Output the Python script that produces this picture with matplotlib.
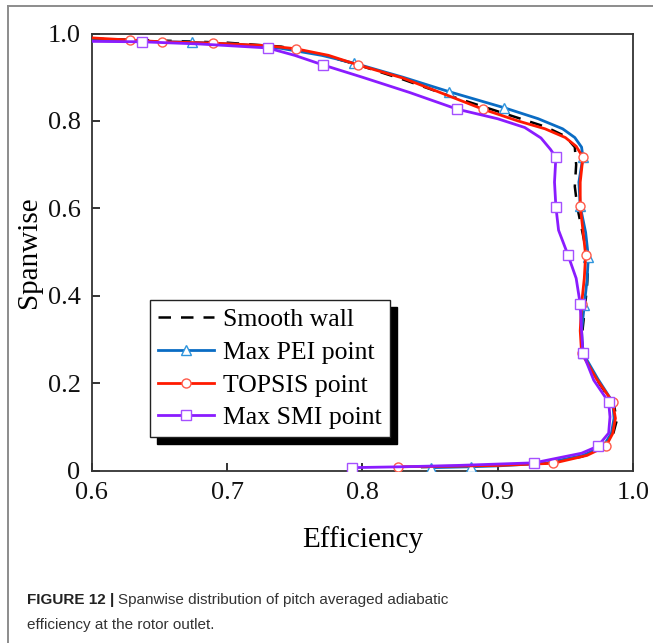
import numpy as np
import matplotlib
matplotlib.use("Agg")
import matplotlib.pyplot as plt
from matplotlib.lines import Line2D

plt.rcParams['font.family'] = ['Liberation Serif', 'DejaVu Serif']

# ---- data ----
smooth_x = [0.600, 0.650, 0.700, 0.740, 0.770, 0.800, 0.830, 0.860, 0.890, 0.915, 0.935, 0.950,
            0.957, 0.958, 0.957, 0.959, 0.963, 0.967, 0.966, 0.964, 0.962, 0.964, 0.975, 0.986,
            0.988, 0.985, 0.978, 0.962, 0.935, 0.890, 0.840]
smooth_y = [0.988, 0.984, 0.979, 0.970, 0.952, 0.925, 0.895, 0.862, 0.832, 0.807, 0.787, 0.765,
            0.740, 0.700, 0.650, 0.600, 0.540, 0.480, 0.420, 0.360, 0.300, 0.260, 0.200, 0.150,
            0.115, 0.080, 0.052, 0.032, 0.017, 0.011, 0.008]

pei_x = [0.600, 0.640, 0.674, 0.710, 0.740, 0.770, 0.794, 0.830, 0.864, 0.905, 0.930, 0.948,
         0.957, 0.962, 0.963, 0.960, 0.961, 0.965, 0.967, 0.966, 0.964, 0.962, 0.963, 0.974,
         0.985, 0.986, 0.984, 0.978, 0.963, 0.935, 0.900, 0.880, 0.851]
pei_y = [0.984, 0.982, 0.980, 0.975, 0.966, 0.950, 0.932, 0.900, 0.867, 0.830, 0.805, 0.782,
         0.762, 0.740, 0.717, 0.660, 0.605, 0.545, 0.489, 0.435, 0.379, 0.320, 0.269, 0.210,
         0.157, 0.120, 0.085, 0.056, 0.035, 0.017, 0.011, 0.009, 0.007]
pei_marks = [2, 6, 8, 9, 14, 16, 18, 20, 22, 31, 32]

topsis_x = [0.600, 0.628, 0.652, 0.690, 0.730, 0.751, 0.775, 0.797, 0.830, 0.860, 0.889, 0.915,
            0.935, 0.950, 0.958, 0.963, 0.961, 0.961, 0.963, 0.965, 0.964, 0.962, 0.961, 0.962,
            0.973, 0.985, 0.987, 0.985, 0.980, 0.966, 0.941, 0.900, 0.860, 0.826]
topsis_y = [0.990, 0.985, 0.981, 0.978, 0.972, 0.965, 0.950, 0.928, 0.898, 0.862, 0.827, 0.800,
            0.782, 0.762, 0.742, 0.717, 0.660, 0.605, 0.550, 0.493, 0.440, 0.381, 0.320, 0.269,
            0.210, 0.157, 0.120, 0.085, 0.056, 0.035, 0.017, 0.012, 0.010, 0.009]
topsis_marks = [1, 2, 3, 5, 7, 10, 15, 17, 19, 21, 23, 25, 28, 30, 33]

smi_x = [0.600, 0.637, 0.680, 0.730, 0.750, 0.771, 0.800, 0.835, 0.870, 0.900, 0.920, 0.932,
         0.939, 0.943, 0.942, 0.943, 0.945, 0.952, 0.958, 0.961, 0.962, 0.963, 0.971, 0.982,
         0.983, 0.982, 0.974, 0.962, 0.927, 0.870, 0.830, 0.792]
smi_y = [0.982, 0.981, 0.976, 0.967, 0.950, 0.928, 0.900, 0.865, 0.827, 0.805, 0.785, 0.761,
         0.735, 0.717, 0.660, 0.604, 0.550, 0.493, 0.440, 0.381, 0.320, 0.269, 0.207, 0.157,
         0.123, 0.086, 0.056, 0.040, 0.018, 0.012, 0.009, 0.007]
smi_marks = [1, 3, 5, 8, 13, 15, 17, 19, 21, 23, 26, 28, 31]

x_ticks = [0.6, 0.7, 0.8, 0.9, 1.0]
x_labels = ['0.6', '0.7', '0.8', '0.9', '1.0']
y_ticks = [0, 0.2, 0.4, 0.6, 0.8, 1.0]
y_labels = ['0', '0.2', '0.4', '0.6', '0.8', '1.0']

W, H = 653, 643
fig = plt.figure(figsize=(W / 100, H / 100), dpi=100)
ax = fig.add_axes([91.7 / W, 1 - 470.7 / H, 541.3 / W, 437.2 / H])

blue = '#0a6cc4'
red = '#ff1a00'
purple = '#8a1cff'

l_pei, = ax.plot(pei_x, pei_y, color=blue, lw=2.0, marker='^', ms=7, mfc='white',
                 mec='#2f95dd', mew=1.0, markevery=pei_marks, zorder=3)
l_top, = ax.plot(topsis_x, topsis_y, color=red, lw=2.0, marker='o', ms=6.5, mfc='white',
                 mec='#ff5a4a', mew=1.0, markevery=topsis_marks, zorder=4)
l_smi, = ax.plot(smi_x, smi_y, color=purple, lw=2.0, marker='s', ms=6.5, mfc='white',
                 mec='#a550ff', mew=1.0, markevery=smi_marks, zorder=5)
l_sm, = ax.plot(smooth_x, smooth_y, color='black', lw=1.8, ls=(0, (5, 4)), zorder=2.5)

ax.set_xlim(0.6, 1.0)
ax.set_ylim(0, 1.0)
ax.set_xticks(x_ticks)
ax.set_xticklabels(x_labels)
ax.set_yticks(y_ticks)
ax.set_yticklabels(y_labels)
ax.tick_params(direction='in', length=6, width=1.2, labelsize=19, colors='#111111', pad=8)
for s in ax.spines.values():
    s.set_linewidth(1.3)
    s.set_color('#333333')

ax.set_xlabel('Efficiency', fontsize=21, labelpad=16)
ax.set_ylabel('Spanwise', fontsize=21, labelpad=4)

leg = ax.legend([l_sm, l_pei, l_top, l_smi],
                ['Smooth wall', 'Max PEI point', 'TOPSIS point', 'Max SMI point'],
                loc='lower left', bbox_to_anchor=(0.108, 0.077), fontsize=18.5,
                frameon=True, fancybox=False, edgecolor='#222222', framealpha=1,
                shadow={'ox': 5, 'oy': -5, 'facecolor': 'black', 'edgecolor': 'black', 'alpha': 1},
                borderpad=0.3, labelspacing=0.38, handlelength=2.2, handletextpad=0.35,
                borderaxespad=0, numpoints=1)
leg.get_frame().set_linewidth(1.0)

# outer frame lines
fig.add_artist(Line2D([8 / W, 8 / W], [0, 1 - 6 / H], color='#8c8c8c', lw=1.4))
fig.add_artist(Line2D([8 / W, 1], [1 - 6 / H, 1 - 6 / H], color='#8c8c8c', lw=1.4))

# caption
cap_fam = ['Liberation Sans Narrow', 'Liberation Sans', 'DejaVu Sans']
t1 = fig.text(27 / W, 1 - 600 / H, 'FIGURE 12 |', fontsize=11, fontweight='bold',
              family=cap_fam, color='#222222', va='center', ha='left')
fig.canvas.draw()
bb = t1.get_window_extent(renderer=fig.canvas.get_renderer())
fig.text(bb.x1 / W + 4 / W, 1 - 600 / H, 'Spanwise distribution of pitch averaged adiabatic',
         fontsize=11, family=cap_fam, color='#333333', va='center', ha='left')
fig.text(27 / W, 1 - 625 / H, 'efficiency at the rotor outlet.',
         fontsize=11, family=cap_fam, color='#333333', va='center', ha='left')

fig.savefig('out.png', dpi=100)
